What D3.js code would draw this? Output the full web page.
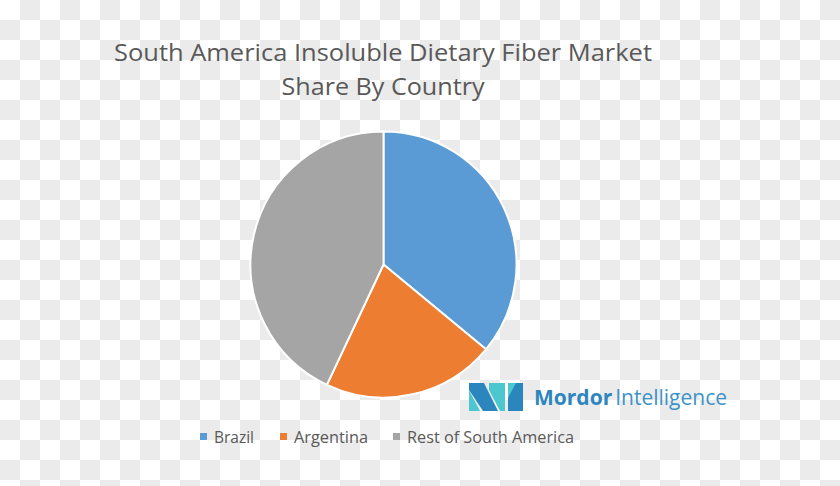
<!DOCTYPE html>
<html>
<head>
<meta charset="utf-8">
<script src="https://cdn.jsdelivr.net/npm/d3@7"></script>
<style>
  html, body { margin: 0; padding: 0; background: #fff; }
  svg { display: block; }
</style>
</head>
<body>
<svg id="chart" width="840" height="486"></svg>
<script>
// ---- data ----
const titleLines = ["South America Insoluble Dietary Fiber Market", "Share By Country"];
const categories = ["Brazil", "Argentina", "Rest of South America"];
const shares = [36, 21, 43];
const colors = ["#5b9bd5", "#ed7d31", "#a5a5a5"];

const W = 840, H = 486;
const svg = d3.select("#chart");

// checkerboard background (transparent PNG look)
const defs = svg.append("defs");
const pat = defs.append("pattern").attr("id", "checker")
  .attr("width", 40).attr("height", 40).attr("patternUnits", "userSpaceOnUse");
pat.append("rect").attr("width", 40).attr("height", 40).attr("fill", "#ffffff");
pat.append("rect").attr("x", 20).attr("y", 0).attr("width", 20).attr("height", 20).attr("fill", "#ebebeb");
pat.append("rect").attr("x", 0).attr("y", 20).attr("width", 20).attr("height", 20).attr("fill", "#ebebeb");
svg.append("rect").attr("width", W).attr("height", H).attr("fill", "url(#checker)");

// title
const titleLens = [538, 203];
svg.append("g").selectAll("text").data(titleLines).join("text")
  .attr("x", 383).attr("y", (d, i) => 61 + i * 34)
  .attr("text-anchor", "middle")
  .attr("font-family", "'Open Sans', sans-serif")
  .attr("font-size", 23)
  .attr("fill", "#595959")
  .attr("textLength", (d, i) => titleLens[i])
  .attr("lengthAdjust", "spacingAndGlyphs")
  .text(d => d);

// pie
const cx = 383.5, cy = 264.5, R = 133;
const pie = d3.pie().sort(null).value(d => d)(shares);
const arc = d3.arc().innerRadius(0).outerRadius(R);
svg.append("g").attr("transform", `translate(${cx},${cy})`)
  .selectAll("path").data(pie).join("path")
  .attr("d", arc)
  .attr("fill", (d, i) => colors[i])
  .attr("stroke", "#ffffff")
  .attr("stroke-width", 2)
  .attr("stroke-linejoin", "round");

// legend
const legendX = [200, 280, 393];
const lg = svg.append("g").attr("font-family", "'Open Sans', sans-serif").attr("font-size", 16);
const items = lg.selectAll("g").data(categories).join("g")
  .attr("transform", (d, i) => `translate(${legendX[i]},0)`);
items.append("rect").attr("x", 0).attr("y", 433).attr("width", 7).attr("height", 7)
  .attr("fill", (d, i) => colors[i]);
const legendLens = [40, 74, 167];
items.append("text").attr("x", 14).attr("y", 443)
  .attr("fill", "#595959")
  .attr("textLength", (d, i) => legendLens[i])
  .attr("lengthAdjust", "spacingAndGlyphs")
  .text(d => d);

// logo
const logo = svg.append("g");
const dark = "#2a86bd", teal = "#4cc6cf";
const polys = [
  { c: teal, p: [[469,390],[469,411],[480,411]] },
  { c: dark, p: [[469,383],[484,383],[498,411],[483,411],[469,390]] },
  { c: teal, p: [[489,383],[505,383],[505,411],[500,411],[489,390]] },
  { c: dark, p: [[508,383],[523,383],[523,411],[508,411]] },
  { c: teal, p: [[508,383],[516,383],[508,398]] }
];
logo.selectAll("polygon").data(polys).join("polygon")
  .attr("points", d => d.p.map(q => q.join(",")).join(" "))
  .attr("fill", d => d.c);
const lt = logo.append("text").attr("x", 534).attr("y", 405)
  .attr("font-family", "'Open Sans', sans-serif").attr("font-size", 21);
lt.append("tspan").attr("font-weight", "bold").attr("fill", "#2e86bf").text("Mordor");
lt.append("tspan").attr("dx", 3).attr("fill", "#3d93c8").text("Intelligence");
</script>
</body>
</html>
